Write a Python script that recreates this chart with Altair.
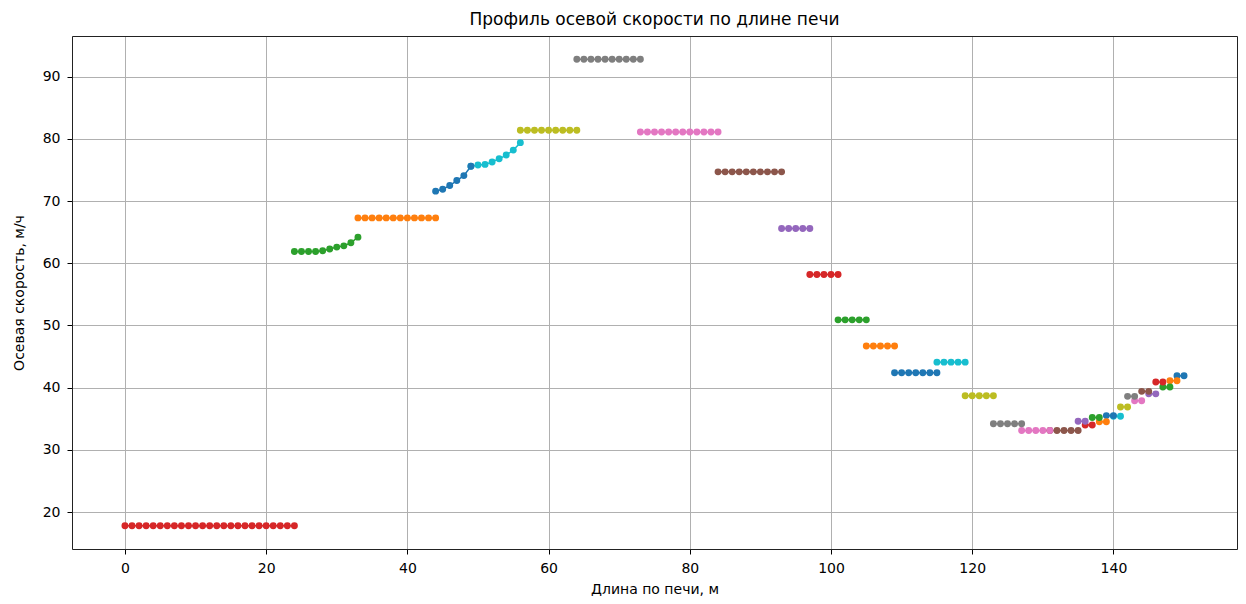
import altair as alt
import pandas as pd

# tab10 palette (matplotlib default cycle)
tab10 = ["#1f77b4", "#ff7f0e", "#2ca02c", "#d62728", "#9467bd",
         "#8c564b", "#e377c2", "#7f7f7f", "#bcbd22", "#17becf"]

# segments along the kiln: first x, colour index, axial speed at each metre
seg_start = [0, 24, 33, 44, 49, 56, 64, 73, 84, 93, 97, 101, 105, 109, 115,
             119, 123, 127, 131, 135, 136, 137, 138, 139, 140, 141, 142, 143,
             144, 145, 146, 147, 148, 149]
seg_color = [3, 2, 1, 0, 9, 8, 7, 6, 5, 4, 3, 2, 1, 0, 9, 8, 7, 6, 5, 4,
             3, 2, 1, 0, 9, 8, 7, 6, 5, 4, 3, 2, 1, 0]
seg_values = [
    [17.8] * 25,
    [61.9, 61.9, 61.9, 61.9, 62.0, 62.3, 62.6, 62.8, 63.3, 64.2],
    [67.3] * 12,
    [71.6, 71.9, 72.5, 73.3, 74.1, 75.6],
    [75.6, 75.8, 75.9, 76.3, 76.8, 77.4, 78.2, 79.4],
    [81.4] * 9,
    [92.8] * 10,
    [81.1] * 12,
    [74.7] * 10,
    [65.6] * 5,
    [58.2] * 5,
    [50.9] * 5,
    [46.7] * 5,
    [42.4] * 7,
    [44.1] * 5,
    [38.7] * 5,
    [34.2] * 5,
    [33.1] * 5,
    [33.1] * 5,
    [34.6, 34.6],
    [34.0, 34.0],
    [35.2, 35.2],
    [34.5, 34.5],
    [35.5, 35.5],
    [35.4, 35.4],
    [36.9, 36.9],
    [38.6, 38.6],
    [37.9, 37.9],
    [39.4, 39.4],
    [39.0, 39.0],
    [40.9, 40.9],
    [40.1, 40.1],
    [41.1, 41.1],
    [41.9, 41.9],
]

x_ticks = [0, 20, 40, 60, 80, 100, 120, 140]
y_ticks = [20, 30, 40, 50, 60, 70, 80, 90]

rows = []
# plotted from the last segment to the first, so earlier segments lie on top
for k in reversed(range(len(seg_start))):
    for i, v in enumerate(seg_values[k]):
        rows.append({"x": seg_start[k] + i, "y": v, "seg": k,
                     "color": tab10[seg_color[k]]})
df = pd.DataFrame(rows)

FONT = "DejaVu Sans"
x_scale = alt.Scale(domain=[-7.5, 157.5], nice=False, zero=False)
y_scale = alt.Scale(domain=[14.05, 96.55], nice=False, zero=False)

# frame axes (top / right): only the domain line
frame_x = alt.X("x:Q", scale=x_scale,
                axis=alt.Axis(orient="top", labels=False, ticks=False, grid=False,
                              title=None, domain=True))
frame_y = alt.Y("y:Q", scale=y_scale,
                axis=alt.Axis(orient="right", labels=False, ticks=False, grid=False,
                              title=None, domain=True))

x_enc = alt.X("x:Q", scale=x_scale,
              axis=alt.Axis(values=x_ticks, title="Длина по печи, м", grid=True,
                            gridColor="#b0b0b0", gridWidth=1,
                            titleY=44, titleBaseline="alphabetic"))
y_enc = alt.Y("y:Q", scale=y_scale,
              axis=alt.Axis(values=y_ticks, title="Осевая скорость, м/ч", grid=True,
                            gridColor="#b0b0b0", gridWidth=1,
                            titleX=-49, titleBaseline="alphabetic"))

base = alt.Chart(df)
lines = base.mark_line(strokeWidth=1.5).encode(
    x=frame_x, y=frame_y,
    color=alt.Color("color:N", scale=None),
    detail="seg:N",
    order="x:Q",
)
points = base.mark_circle(size=48, opacity=1).encode(
    x=x_enc, y=y_enc,
    color=alt.Color("color:N", scale=None),
)

chart = alt.layer(lines, points).resolve_axis(
    x="independent", y="independent"
).properties(
    width=1165, height=513,
    title=alt.TitleParams("Профиль осевой скорости по длине печи",
                          font=FONT, fontSize=17, fontWeight="normal",
                          color="black", anchor="middle",
                          baseline="alphabetic", offset=11, dy=17),
    autosize=alt.AutoSizeParams(type="none"),
    padding={"left": 64, "top": 28, "right": 1, "bottom": 47},
).configure_view(
    stroke="#222222", strokeWidth=1, fill="white"
).configure(
    background="white"
).configure_axis(
    domain=True, domainColor="#222222", domainWidth=1,
    tickColor="black", tickSize=5, tickWidth=1,
    labelFont=FONT, labelFontSize=14, labelColor="black", labelPadding=7,
    titleFont=FONT, titleFontSize=14, titleFontWeight="normal", titleColor="black",
)

chart.save("out.html", embed_options={"renderer": "svg", "actions": False})
